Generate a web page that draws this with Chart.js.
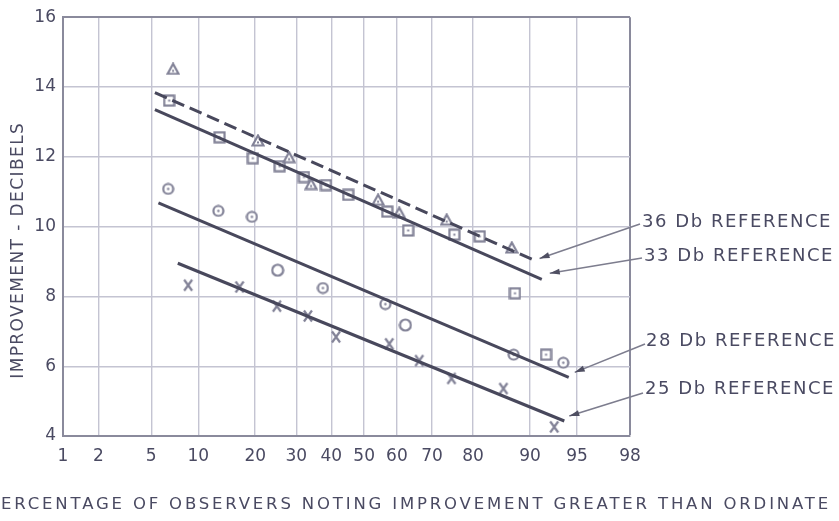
<!DOCTYPE html>
<html>
<head>
<meta charset="utf-8">
<script src="https://cdn.jsdelivr.net/npm/chart.js@4/dist/chart.umd.min.js"></script>
<style>
  html, body { margin: 0; padding: 0; background: #ffffff; }
  canvas { display: block; }
</style>
</head>
<body>
<canvas id="chart" width="839" height="521"></canvas>
<script>
// Percentage of observers (probability axis) and improvement in dB, per reference level
const probTicks = [1, 2, 5, 10, 20, 30, 40, 50, 60, 70, 80, 90, 95, 98];
const dbTicks = [4, 6, 8, 10, 12, 14, 16];

const pct36 = [7.0, 20.6, 28.1, 34.1, 54.3, 60.7, 73.8, 87.3];
const db36  = [14.52, 12.47, 11.99, 11.22, 10.77, 10.40, 10.20, 9.40];

const pct33 = [6.6, 13.2, 19.5, 25.7, 32.1, 38.4, 45.1, 57.1, 63.3, 75.7, 81.4, 87.8, 92.0];
const db33  = [13.61, 12.56, 11.96, 11.73, 11.42, 11.19, 10.91, 10.43, 9.89, 9.77, 9.72, 8.09, 6.33];

const pct28 = [6.5, 13.0, 19.3, 25.2, 37.5, 56.5, 62.5, 87.6, 93.8];
const db28  = [11.08, 10.45, 10.28, 8.75, 8.24, 7.78, 7.18, 6.33, 6.10];
const plain28 = [false, false, false, true, false, false, true, false, false];

const pct25 = [8.7, 16.8, 25.0, 33.2, 41.4, 57.7, 66.5, 75.0, 85.9, 92.9];
const db25  = [8.32, 8.27, 7.72, 7.44, 6.84, 6.64, 6.16, 5.65, 5.36, 4.26];

// Fitted straight lines (end points) on probability paper
const fitPct36 = [5.3, 90.6];  const fitDb36 = [13.84, 9.03];
const fitPct33 = [5.3, 91.5];  const fitDb33 = [13.35, 8.49];
const fitPct28 = [5.6, 94.3];  const fitDb28 = [10.68, 5.68];
const fitPct25 = [7.5, 93.9];  const fitDb25 = [8.95, 4.43];

const refLabels = ['36 Db REFERENCE', '33 Db REFERENCE', '28 Db REFERENCE', '25 Db REFERENCE'];
const yTitle = 'IMPROVEMENT - DECIBELS';
const xTitle = 'PERCENTAGE OF OBSERVERS NOTING IMPROVEMENT GREATER THAN ORDINATE';

// ---- styling ----
const INK = '#4a4a62';
const LINE = '#48485c';
const MARK = '#828297';
const GRID = '#c4c4d2';
const FRAME = '#8a8a9c';
const FONT = '"DejaVu Sans", sans-serif';

// ---- normal probability scale ----
function normInv(p) {
  const a = [-3.969683028665376e+01, 2.209460984245205e+02, -2.759285104469687e+02, 1.383577518672690e+02, -3.066479806614716e+01, 2.506628277459239e+00];
  const b = [-5.447609879822406e+01, 1.615858368580409e+02, -1.556989798598866e+02, 6.680131188771972e+01, -1.328068155288572e+01];
  const c = [-7.784894002430293e-03, -3.223964580411365e-01, -2.400758277161838e+00, -2.549732539343734e+00, 4.374664141464968e+00, 2.938163982698783e+00];
  const d = [7.784695709041462e-03, 3.224671290700398e-01, 2.445134137142996e+00, 3.754408661907416e+00];
  const pl = 0.02425, ph = 1 - pl;
  let q, r;
  if (p < pl) {
    q = Math.sqrt(-2 * Math.log(p));
    return (((((c[0]*q+c[1])*q+c[2])*q+c[3])*q+c[4])*q+c[5]) / ((((d[0]*q+d[1])*q+d[2])*q+d[3])*q+1);
  }
  if (p <= ph) {
    q = p - 0.5; r = q * q;
    return (((((a[0]*r+a[1])*r+a[2])*r+a[3])*r+a[4])*r+a[5])*q / (((((b[0]*r+b[1])*r+b[2])*r+b[3])*r+b[4])*r+1);
  }
  q = Math.sqrt(-2 * Math.log(1 - p));
  return -(((((c[0]*q+c[1])*q+c[2])*q+c[3])*q+c[4])*q+c[5]) / ((((d[0]*q+d[1])*q+d[2])*q+d[3])*q+1);
}
function normCdf(z) {
  const t = 1 / (1 + 0.3275911 * Math.abs(z) / Math.SQRT2);
  const y = 1 - (((((1.061405429*t - 1.453152027)*t) + 1.421413741)*t - 0.284496736)*t + 0.254829592)*t * Math.exp(-z*z/2);
  return z >= 0 ? (1 + y) / 2 : (1 - y) / 2;
}

class ProbitScale extends Chart.Scale {
  static id = 'probit';
  static defaults = {};
  parse(raw) { return raw == null ? null : +raw; }
  determineDataLimits() {
    this.min = this.options.min;
    this.max = this.options.max;
  }
  buildTicks() { return probTicks.map(v => ({ value: v })); }
  configure() {
    super.configure();
    this._z0 = normInv(this.min / 100);
    this._zr = normInv(this.max / 100) - this._z0;
  }
  getLabelForValue(v) { return String(v); }
  getPixelForTick(i) { return this.getPixelForValue(this.ticks[i].value); }
  getPixelForValue(v) {
    return this.getPixelForDecimal((normInv(v / 100) - this._z0) / this._zr);
  }
  getValueForPixel(px) {
    return 100 * normCdf(this._z0 + this.getDecimalForPixel(px) * this._zr);
  }
}
Chart.register(ProbitScale);

// ---- marker glyphs ----
function glyph(w, h, draw) {
  const cv = document.createElement('canvas');
  cv.width = w; cv.height = h;
  const g = cv.getContext('2d');
  g.strokeStyle = MARK; g.fillStyle = MARK; g.lineWidth = 2;
  draw(g);
  return cv;
}
const triGlyph = glyph(14, 13, g => {
  g.lineWidth = 2.2;
  g.beginPath(); g.moveTo(7, 1.5); g.lineTo(12.5, 11.5); g.lineTo(1.5, 11.5); g.closePath();
  g.fillStyle = '#ffffff'; g.fill(); g.stroke();
  g.fillStyle = MARK; g.fillRect(6, 7.5, 2, 2);
});
const sqGlyph = glyph(13, 13, g => {
  g.lineWidth = 2.2;
  g.fillStyle = '#ffffff'; g.fillRect(1.5, 1.5, 10, 10);
  g.strokeRect(1.5, 1.5, 10, 10);
  g.fillStyle = MARK; g.fillRect(5.5, 5.5, 2, 2);
});
const circGlyph = glyph(13, 13, g => {
  g.lineWidth = 2.2;
  g.beginPath(); g.arc(6.5, 6.5, 5, 0, Math.PI * 2);
  g.fillStyle = '#ffffff'; g.fill(); g.stroke();
  g.fillStyle = MARK; g.beginPath(); g.arc(6.5, 6.5, 1.2, 0, Math.PI * 2); g.fill();
});
const ringGlyph = glyph(14, 14, g => {
  g.lineWidth = 2.2;
  g.beginPath(); g.arc(7, 7, 5.5, 0, Math.PI * 2); g.stroke();
});
const xGlyph = glyph(12, 14, g => {
  g.lineWidth = 2.2;
  g.beginPath();
  g.moveTo(2, 1.5); g.quadraticCurveTo(6, 7, 10, 12.5);
  g.moveTo(10, 1.5); g.quadraticCurveTo(6, 7, 2, 12.5);
  g.stroke();
});

const pts = (xs, ys) => xs.map((x, i) => ({ x, y: ys[i] }));

const markerSet = (data, style) => ({
  data, showLine: false, pointStyle: style, pointRadius: 6, pointHoverRadius: 6,
  borderColor: MARK, backgroundColor: MARK, order: 2
});
const fitSet = (data, dash) => ({
  data, showLine: true, borderColor: LINE, borderWidth: 3, borderDash: dash,
  pointRadius: 0, pointHoverRadius: 0, fill: false, order: 1, borderCapStyle: 'butt'
});

const fits = [pts(fitPct36, fitDb36), pts(fitPct33, fitDb33), pts(fitPct28, fitDb28), pts(fitPct25, fitDb25)];

// label placement for reference callouts
const calloutLayout = [
  { tx: 642, ty: 222, sx: 640, sy: 224, dx: 5, dy: -2 },
  { tx: 644, ty: 256, sx: 642, sy: 258, dx: 8, dy: -6 },
  { tx: 646, ty: 341, sx: 645, sy: 344, dx: 6, dy: -5 },
  { tx: 645, ty: 389, sx: 643, sy: 393, dx: 5, dy: -5 }
];

function spacedText(ctx, text, targetWidth) {
  ctx.letterSpacing = '0px';
  const natural = ctx.measureText(text).width;
  return Math.max(0, (targetWidth - natural) / text.length);
}

const annotations = {
  id: 'annotations',
  afterDraw(chart) {
    const ctx = chart.ctx;
    const xs = chart.scales.x, ys = chart.scales.y;
    ctx.save();
    ctx.fillStyle = INK;

    // y-axis title
    ctx.font = '17px ' + FONT;
    const ySp = spacedText(ctx, yTitle, 257);
    ctx.save();
    ctx.translate(19, 251);
    ctx.rotate(-Math.PI / 2);
    ctx.letterSpacing = ySp + 'px';
    ctx.textAlign = 'center';
    ctx.textBaseline = 'middle';
    ctx.fillText(yTitle, ySp / 2, 0);
    ctx.restore();

    // x-axis title (runs past the left edge)
    ctx.font = '16.5px ' + FONT;
    const visible = xTitle.slice(1);
    const xSp = spacedText(ctx, visible, 830);
    ctx.letterSpacing = '0px';
    const wP = ctx.measureText(xTitle[0]).width + xSp;
    ctx.letterSpacing = xSp + 'px';
    ctx.textAlign = 'left';
    ctx.textBaseline = 'middle';
    ctx.fillText(xTitle, 1 - wP, 505);

    // reference callouts with leader arrows
    ctx.font = '18px ' + FONT;
    refLabels.forEach((label, i) => {
      const L = calloutLayout[i];
      const sp = spacedText(ctx, label, 190);
      ctx.letterSpacing = sp + 'px';
      ctx.textAlign = 'left';
      ctx.textBaseline = 'middle';
      ctx.fillStyle = INK;
      ctx.fillText(label, L.tx, L.ty);

      const end = fits[i][fits[i].length - 1];
      const tipX = xs.getPixelForValue(end.x) + L.dx;
      const tipY = ys.getPixelForValue(end.y) + L.dy;
      ctx.strokeStyle = '#7d7d8e';
      ctx.lineWidth = 1.6;
      ctx.beginPath(); ctx.moveTo(L.sx, L.sy); ctx.lineTo(tipX, tipY); ctx.stroke();
      const ang = Math.atan2(tipY - L.sy, tipX - L.sx);
      ctx.fillStyle = '#4f4f62';
      ctx.beginPath();
      ctx.moveTo(tipX, tipY);
      ctx.lineTo(tipX - 10 * Math.cos(ang) + 3 * Math.sin(ang), tipY - 10 * Math.sin(ang) - 3 * Math.cos(ang));
      ctx.lineTo(tipX - 10 * Math.cos(ang) - 3 * Math.sin(ang), tipY - 10 * Math.sin(ang) + 3 * Math.cos(ang));
      ctx.closePath();
      ctx.fill();
    });
    ctx.restore();
  }
};

new Chart(document.getElementById('chart'), {
  type: 'scatter',
  data: {
    datasets: [
      fitSet(fits[0], [13, 6]),
      fitSet(fits[1], []),
      fitSet(fits[2], []),
      fitSet(fits[3], []),
      markerSet(pts(pct36, db36), triGlyph),
      markerSet(pts(pct33, db33), sqGlyph),
      markerSet(pts(pct28, db28), plain28.map(p => p ? ringGlyph : circGlyph)),
      markerSet(pts(pct25, db25), xGlyph)
    ]
  },
  options: {
    responsive: false,
    animation: false,
    devicePixelRatio: 1,
    layout: { padding: { left: 0, right: 209, top: 14, bottom: 0 } },
    plugins: { legend: { display: false }, tooltip: { enabled: false } },
    scales: {
      x: {
        type: 'probit', min: 1, max: 98,
        afterFit: s => { s.height = 85; },
        grid: {
          color: c => (c.tick && c.tick.value === 98) ? FRAME : GRID,
          lineWidth: c => (c.tick && c.tick.value === 98) ? 2 : 1.4,
          drawTicks: false
        },
        border: { display: true, color: FRAME, width: 2 },
        ticks: { autoSkip: false, maxRotation: 0, padding: 10, color: INK, font: { family: FONT, size: 17 } }
      },
      y: {
        type: 'linear', min: 4, max: 16,
        afterBuildTicks: s => { s.ticks = dbTicks.map(v => ({ value: v })); },
        afterFit: s => { s.width = 63; },
        grid: {
          color: c => (c.tick && c.tick.value === 16) ? FRAME : GRID,
          lineWidth: c => (c.tick && c.tick.value === 16) ? 2 : 1.4,
          drawTicks: false
        },
        border: { display: true, color: FRAME, width: 2 },
        ticks: { padding: 7, color: INK, font: { family: FONT, size: 17 } }
      }
    }
  },
  plugins: [annotations]
});
</script>
</body>
</html>
